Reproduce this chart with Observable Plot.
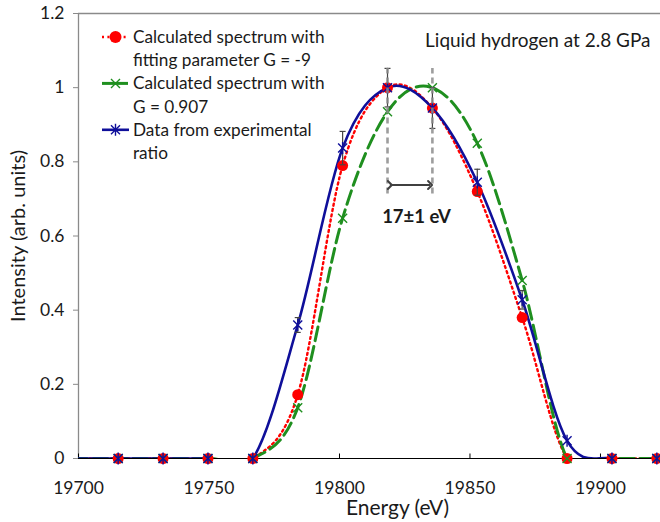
<!DOCTYPE html>
<html><head><meta charset="utf-8">
<script src="https://cdn.jsdelivr.net/npm/d3@7"></script>
<script src="https://cdn.jsdelivr.net/npm/@observablehq/plot@0.6"></script>
<style>
html,body{margin:0;padding:0;background:#fff;}
#chart{position:relative;width:660px;height:522px;overflow:hidden;font-family:Lato,"Open Sans",sans-serif;}
#chart svg{overflow:visible;}
#legend{position:absolute;left:0;top:0;pointer-events:none;}
</style></head><body><div id="chart"></div>
<script>
// ---- data ----
const energy    = [19698.0, 19715.2, 19732.4, 19749.6, 19766.8, 19784.0, 19801.2, 19818.4, 19835.6, 19852.8, 19870.0, 19887.2, 19904.4, 19921.6];
const calcG9    = [0, 0, 0, 0, 0, 0.172, 0.79, 1.0, 0.945, 0.72, 0.38, 0, 0, 0];
const calcG0907 = [0, 0, 0, 0, 0, 0.137, 0.648, 0.935, 1.0, 0.85, 0.48, 0, 0, 0];
const expData   = [0, 0, 0, 0, 0, 0.36, 0.837, 1.0, 0.945, 0.745, 0.428, 0.048, 0, 0];
const expErr    = [0, 0, 0, 0, 0, 0.02, 0.045, 0.052, 0.055, 0.035, 0.025, 0, 0, 0];
const xTicks = [19700, 19750, 19800, 19850, 19900];
const yTicks = [0, 0.2, 0.4, 0.6, 0.8, 1.0, 1.2];
const xDomain = [19700, 19923];
const yDomain = [0, 1.2];
const peakEnergies = [19818.4, 19835.6];
const peakGuideRange = [0.713, 1.052];
const shiftArrow = [{x1: 19819.3, x2: 19834.7, y: 0.7375}];
const shiftLabel = [{x: 19829.5, y: 0.652, text: "17±1 eV"}];
const titleText = "Liquid hydrogen at 2.8 GPa";
const xLabel = "Energy (eV)";
const yLabel = "Intensity (arb. units)";
const legendEntries = [
  {key: "red", lines: ["Calculated spectrum with", "fitting parameter G = -9"]},
  {key: "green", lines: ["Calculated spectrum with", "G = 0.907"]},
  {key: "blue", lines: ["Data from experimental", "ratio"]}
];

const RED = "#ff0000", GREEN = "#1f8f1f", BLUE = "#0f0f9a", TXT = "#1a1a1a";
const FONT = "Lato, 'Open Sans', sans-serif";

const rows = energy.map((e, i) => ({e, red: calcG9[i], green: calcG0907[i], blue: expData[i], err: expErr[i]}));
const shown = rows.filter(d => d.e >= xDomain[0]);
const errRows = rows.filter(d => d.err > 0);

// custom symbols
const rad = s => Math.sqrt(s / Math.PI);
const asterisk = {draw(ctx, s) { const r = rad(s), k = r * 0.75;
  ctx.moveTo(-k, -k); ctx.lineTo(k, k); ctx.moveTo(-k, k); ctx.lineTo(k, -k);
  ctx.moveTo(0, -r); ctx.lineTo(0, r); }};
const cross = {draw(ctx, s) { const r = rad(s) * 0.75;
  ctx.moveTo(-r, -r); ctx.lineTo(r, r); ctx.moveTo(-r, r); ctx.lineTo(r, -r); }};
const hcap = {draw(ctx, s) { const r = rad(s); ctx.moveTo(-r, 0); ctx.lineTo(r, 0); }};
const vtick = {draw(ctx, s) { const r = rad(s); ctx.moveTo(0, 0); ctx.lineTo(0, -r); }};

const plot = Plot.plot({
  width: 660, height: 522,
  marginLeft: 78, marginRight: 0, marginTop: 13, marginBottom: 64,
  style: {fontFamily: FONT, background: "#fff", overflow: "visible"},
  x: {domain: xDomain, ticks: xTicks},
  y: {domain: yDomain, ticks: yTicks},
  marks: [
    // frame lines
    Plot.ruleY([yDomain[1]], {stroke: "#8a8a8a", strokeWidth: 1.3}),
    Plot.ruleX([xDomain[0]], {stroke: "#8a8a8a", strokeWidth: 1.3}),
    Plot.axisY({ticks: yTicks, tickSize: 5, tickPadding: 9, stroke: "#8a8a8a", fill: TXT, fontSize: 17.5,
      tickFormat: d => String(+d.toFixed(1)), label: null}),
    Plot.axisX({ticks: xTicks, tickSize: 0, tickPadding: 23, fill: TXT, fontSize: 17.5, tickFormat: d => String(d), label: null}),
    Plot.dot(xTicks, {x: d => d, frameAnchor: "bottom", symbol: vtick, r: 5, stroke: "#000", fill: "none", strokeWidth: 1}),
    // lines
    Plot.line(rows, {x: "e", y: "red", curve: "cardinal", tension: 0, stroke: RED, strokeWidth: 2.4, strokeDasharray: "2 3.4", clip: true}),
    Plot.line(rows, {x: "e", y: "green", curve: "cardinal", tension: 0, stroke: GREEN, strokeWidth: 3, strokeDasharray: "14 6", clip: true}),
    Plot.line(rows, {x: "e", y: "blue", curve: "cardinal", tension: 0, stroke: BLUE, strokeWidth: 2.6, clip: true}),
    Plot.ruleY([0], {stroke: "#000", strokeWidth: 1.2}),
    // markers
    Plot.dot(shown, {x: "e", y: "red", r: 5.5, fill: RED, stroke: "none"}),
    Plot.dot(shown, {x: "e", y: "green", r: 6, symbol: cross, fill: "none", stroke: GREEN, strokeWidth: 1.4}),
    Plot.ruleX(errRows, {x: "e", y1: d => d.blue - d.err, y2: d => d.blue + d.err, stroke: "#444", strokeWidth: 1.2}),
    Plot.dot(errRows, {x: "e", y: d => d.blue + d.err, symbol: hcap, r: 3, stroke: "#444", fill: "none", strokeWidth: 1.2}),
    Plot.dot(errRows, {x: "e", y: d => d.blue - d.err, symbol: hcap, r: 3, stroke: "#444", fill: "none", strokeWidth: 1.2}),
    Plot.dot(shown, {x: "e", y: "blue", r: 6, symbol: asterisk, fill: "none", stroke: BLUE, strokeWidth: 1.4}),
    // annotations
    Plot.ruleX(peakEnergies, {x: d => d, y1: peakGuideRange[0], y2: peakGuideRange[1], stroke: "#8c8c8c", strokeOpacity: 0.85, strokeWidth: 2.6, strokeDasharray: "6 4"}),
    Plot.link(shiftArrow, {x1: "x1", x2: "x2", y1: "y", y2: "y", stroke: "#404040", strokeWidth: 2, markerStart: "arrow", markerEnd: "arrow"}),
    Plot.text(shiftLabel, {x: "x", y: "y", text: "text", fontWeight: "bold", fontSize: 18.5, fill: TXT}),
    Plot.text([titleText], {frameAnchor: "top-right", textAnchor: "end", lineAnchor: "middle", dx: -10, dy: 27, fontSize: 19, fill: TXT}),
    Plot.text([yLabel], {frameAnchor: "left", textAnchor: "middle", lineAnchor: "middle", rotate: -90, dx: -60, fontSize: 20, fill: TXT}),
    Plot.text([xLabel], {frameAnchor: "bottom", textAnchor: "middle", lineAnchor: "middle", dx: 28, dy: 50, fontSize: 21, fill: TXT})
  ]
});
const chart = document.getElementById("chart");
chart.appendChild(plot);

// legend overlay
const lg = d3.select(chart).append("svg").attr("id", "legend").attr("width", 660).attr("height", 522)
  .style("font-family", FONT).style("font-size", "17.2px");
const legTop = 37, lineStep = 23.2, x0 = 102, x1 = 128, mx = 115.5, tx = 133;
legendEntries.forEach((ent, i) => {
  const y = legTop + i * 2 * lineStep;
  const g = lg.append("g");
  if (ent.key === "red") {
    g.append("line").attr("x1", x0).attr("x2", x1).attr("y1", y).attr("y2", y).attr("stroke", RED).attr("stroke-width", 2.4).attr("stroke-dasharray", "2 3.4");
    g.append("circle").attr("cx", mx).attr("cy", y).attr("r", 6).attr("fill", RED);
  } else if (ent.key === "green") {
    g.append("line").attr("x1", x0).attr("x2", x1).attr("y1", y).attr("y2", y).attr("stroke", GREEN).attr("stroke-width", 3);
    const p = d3.path(); cross.draw(p, Math.PI * 36);
    g.append("path").attr("d", p.toString()).attr("transform", `translate(${mx},${y})`).attr("stroke", GREEN).attr("stroke-width", 1.4).attr("fill", "none");
  } else {
    g.append("line").attr("x1", x0).attr("x2", x1 + 1).attr("y1", y).attr("y2", y).attr("stroke", BLUE).attr("stroke-width", 2.6);
    const p = d3.path(); asterisk.draw(p, Math.PI * 36);
    g.append("path").attr("d", p.toString()).attr("transform", `translate(${mx},${y})`).attr("stroke", BLUE).attr("stroke-width", 1.4).attr("fill", "none");
  }
  ent.lines.forEach((t, j) => {
    g.append("text").attr("x", tx).attr("y", y + j * lineStep).attr("dy", "0.35em").attr("fill", TXT).text(t);
  });
});
</script></body></html>
